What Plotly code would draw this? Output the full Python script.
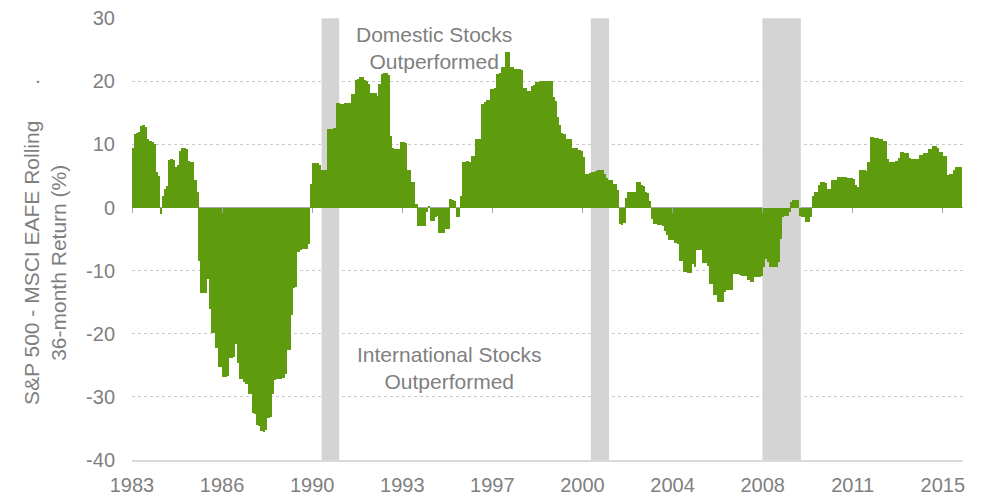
import plotly.graph_objects as go

# Monthly rolling 36-month return difference (S&P 500 minus MSCI EAFE), %
values = [
    9.5, 11.7, 11.8, 11.9, 12.9, 13.0, 12.8, 10.8, 10.5, 10.4,
    10.1, 5.6, 5.0, -1.0, 1.9, 3.0, 3.4, 7.6, 7.7, 7.6,
    6.4, 6.8, 8.9, 9.4, 9.5, 9.3, 7.3, 7.2, 7.2, 4.3,
    2.4, -8.4, -13.6, -13.6, -13.5, -11.3, -16.1, -19.9, -19.9, -22.2,
    -25.3, -25.3, -26.8, -26.8, -26.7, -23.8, -23.8, -23.7, -21.7, -24.6,
    -27.1, -27.2, -27.6, -28.0, -29.5, -29.6, -32.6, -32.7, -34.5, -34.6,
    -35.4, -35.5, -35.3, -33.4, -33.2, -29.5, -27.4, -27.2, -27.2, -27.1,
    -27.0, -26.3, -22.6, -22.5, -17.1, -12.7, -12.6, -7.1, -6.7, -6.6,
    -6.6, -6.5, -5.8, 3.7, 7.0, 7.0, 7.0, 6.8, 6.0, 6.0,
    6.0, 12.4, 12.4, 12.5, 12.6, 16.5, 16.5, 16.4, 16.4, 16.5,
    16.5, 16.6, 18.0, 18.0, 20.2, 20.4, 20.6, 20.6, 20.2, 20.0,
    19.6, 18.2, 18.2, 18.1, 17.7, 19.5, 21.2, 21.3, 21.3, 21.0,
    11.4, 9.4, 9.3, 9.3, 9.2, 10.3, 10.3, 10.2, 5.9, 5.9,
    4.0, 4.0, 0.6, -2.9, -2.9, -3.0, -2.9, -0.7, 0.3, -2.1,
    -2.1, -1.5, -1.4, -4.0, -4.1, -4.0, -3.4, -3.4, 1.4, 1.2,
    1.0, -1.5, -1.5, 1.9, 7.2, 7.2, 7.3, 7.2, 8.2, 8.2,
    10.9, 10.9, 10.9, 16.4, 16.7, 17.0, 17.0, 18.8, 18.8, 18.9,
    21.2, 21.3, 22.2, 22.3, 24.6, 24.6, 22.3, 22.2, 22.0, 22.0,
    21.9, 21.8, 19.0, 19.0, 18.5, 18.5, 19.3, 19.4, 19.9, 19.9,
    20.0, 20.0, 20.1, 20.1, 20.1, 20.0, 17.5, 16.9, 14.3, 13.0,
    11.8, 11.7, 10.9, 10.9, 10.8, 9.5, 9.5, 9.4, 9.1, 9.0,
    8.0, 5.3, 5.3, 5.4, 5.7, 5.7, 5.8, 6.0, 6.0, 6.0,
    5.3, 4.7, 4.3, 4.3, 3.8, 3.8, 2.7, -2.6, -2.7, -2.5,
    1.5, 2.4, 2.4, 2.5, 2.5, 4.0, 4.0, 3.6, 3.4, 2.4,
    2.3, 1.1, -1.8, -2.6, -2.6, -2.8, -2.8, -2.9, -3.7, -4.3,
    -5.1, -5.1, -5.2, -5.6, -5.8, -8.4, -8.5, -10.2, -10.2, -10.4,
    -10.4, -8.9, -9.4, -6.8, -6.8, -6.8, -8.8, -8.8, -9.2, -12.1,
    -12.1, -13.9, -13.9, -15.0, -15.0, -15.0, -13.4, -13.1, -13.1, -13.1,
    -10.5, -10.5, -10.5, -10.7, -10.8, -10.8, -10.9, -11.5, -11.8, -11.8,
    -11.0, -11.0, -11.0, -10.8, -9.4, -8.1, -8.6, -9.5, -9.5, -9.5,
    -9.4, -8.6, -5.0, -1.5, -1.4, -1.4, -0.7, 0.9, 1.2, 1.2,
    1.2, -1.3, -1.5, -1.5, -2.3, -2.3, -1.5, 1.9, 2.4, 2.4,
    3.5, 4.0, 4.0, 3.9, 3.0, 3.0, 4.4, 4.4, 4.4, 4.8,
    4.8, 4.9, 4.9, 4.7, 4.6, 4.6, 4.5, 3.6, 3.2, 6.0,
    6.0, 5.9, 5.8, 7.2, 11.2, 11.2, 11.0, 11.0, 10.9, 10.9,
    10.6, 10.6, 7.7, 7.2, 7.2, 7.2, 7.3, 7.9, 8.8, 8.8,
    8.6, 8.6, 7.9, 7.7, 7.7, 7.7, 7.7, 8.3, 8.3, 8.7,
    8.7, 9.3, 9.3, 9.7, 9.7, 9.4, 8.8, 8.8, 8.1, 8.1,
    5.2, 5.3, 5.3, 6.0, 6.4, 6.4, 6.4,
]
months = list(range(len(values)))  # month index, starting Jan 1983

tick_labels = ["1983", "1986", "1990", "1993", "1997", "2000", "2004", "2008", "2011", "2015"]
tick_pos = [-0.5, 41.5, 83.5, 125.5, 167.5, 209.5, 251.5, 293.5, 335.5, 377.5]

# Recession periods (in month index)
band_start = [87.9, 213.4, 293.4]
band_end = [96.1, 221.9, 311.3]

y_ticks = [30, 20, 10, 0, -10, -20, -30, -40]
y_tick_text = ["30", "20", "10", "0", "-10", "-20", "-30", "-40"]

note_text = ["Domestic Stocks<br>Outperformed", "International Stocks<br>Outperformed"]
note_x = [140.3, 147.1]
note_y = [25.3, -25.5]

GREEN = "#5e9b0e"
GREY_TXT = "#7f7f7f"
FONT = "Liberation Sans, Arial, sans-serif"
x_range = [-0.5, 386.9]
y_range = [-40, 30.02]

fig = go.Figure()
fig.add_trace(go.Bar(
    x=months, y=values, width=1.25,
    marker=dict(color=GREEN, line=dict(width=0)),
    hoverinfo="y", showlegend=False,
))
# invisible trace to host the tick axis crossing at zero
fig.add_trace(go.Scatter(x=[tick_pos[0]], y=[0], xaxis="x2", mode="markers",
                         marker=dict(opacity=0), hoverinfo="skip", showlegend=False))

for s, e in zip(band_start, band_end):
    fig.add_shape(type="rect", xref="x", yref="y", x0=s, x1=e, y0=-40, y1=30,
                  fillcolor="#d4d4d4", line=dict(width=0), layer="between")

for t, xx, yy in zip(note_text, note_x, note_y):
    fig.add_annotation(x=xx, y=yy, xref="x", yref="y", text=t, showarrow=False,
                       font=dict(size=21, color=GREY_TXT, family=FONT),
                       xanchor="center", yanchor="middle")

fig.add_annotation(x=-0.1047, y=0.4457, xref="paper", yref="paper",
                   text="S&P 500 - MSCI EAFE Rolling<br>36-month Return (%)",
                   textangle=-90, showarrow=False, xanchor="center", yanchor="middle",
                   font=dict(size=21, color=GREY_TXT, family=FONT))
fig.add_annotation(x=-0.1219, y=0.855, xref="paper", yref="paper", text=".",
                   textangle=-90, showarrow=False, xanchor="center", yanchor="middle",
                   font=dict(size=21, color=GREY_TXT, family=FONT))

fig.update_layout(
    width=984, height=500,
    margin=dict(l=124, r=29, t=10, b=48, autoexpand=False),
    plot_bgcolor="white", paper_bgcolor="white",
    bargap=0,
    font=dict(family=FONT, color=GREY_TXT),
    xaxis=dict(range=x_range, tickvals=tick_pos, ticktext=tick_labels,
               showgrid=False, zeroline=False, showline=True, linecolor="#d9d9d9",
               linewidth=2, ticks="", ticklabelstandoff=6, automargin=False,
               ticklabeloverflow="allow",
               tickfont=dict(size=20, color=GREY_TXT, family=FONT)),
    xaxis2=dict(range=x_range, overlaying="x", anchor="free", position=40 / 70,
                tickvals=tick_pos, showticklabels=False, ticks="outside", ticklen=5,
                tickcolor="#a6a6a6", showgrid=False, zeroline=False, showline=False,
                automargin=False),
    yaxis=dict(range=y_range, tickvals=y_ticks, ticktext=y_tick_text,
               showgrid=True, gridcolor="#c8c8c8",
               griddash="dot", gridwidth=1, zeroline=True, zerolinecolor="#a6a6a6",
               zerolinewidth=1, showline=False, ticks="", ticklabelstandoff=16,
               automargin=False, ticklabeloverflow="allow",
               tickfont=dict(size=20, color=GREY_TXT, family=FONT)),
)

fig.write_html("out.html")
